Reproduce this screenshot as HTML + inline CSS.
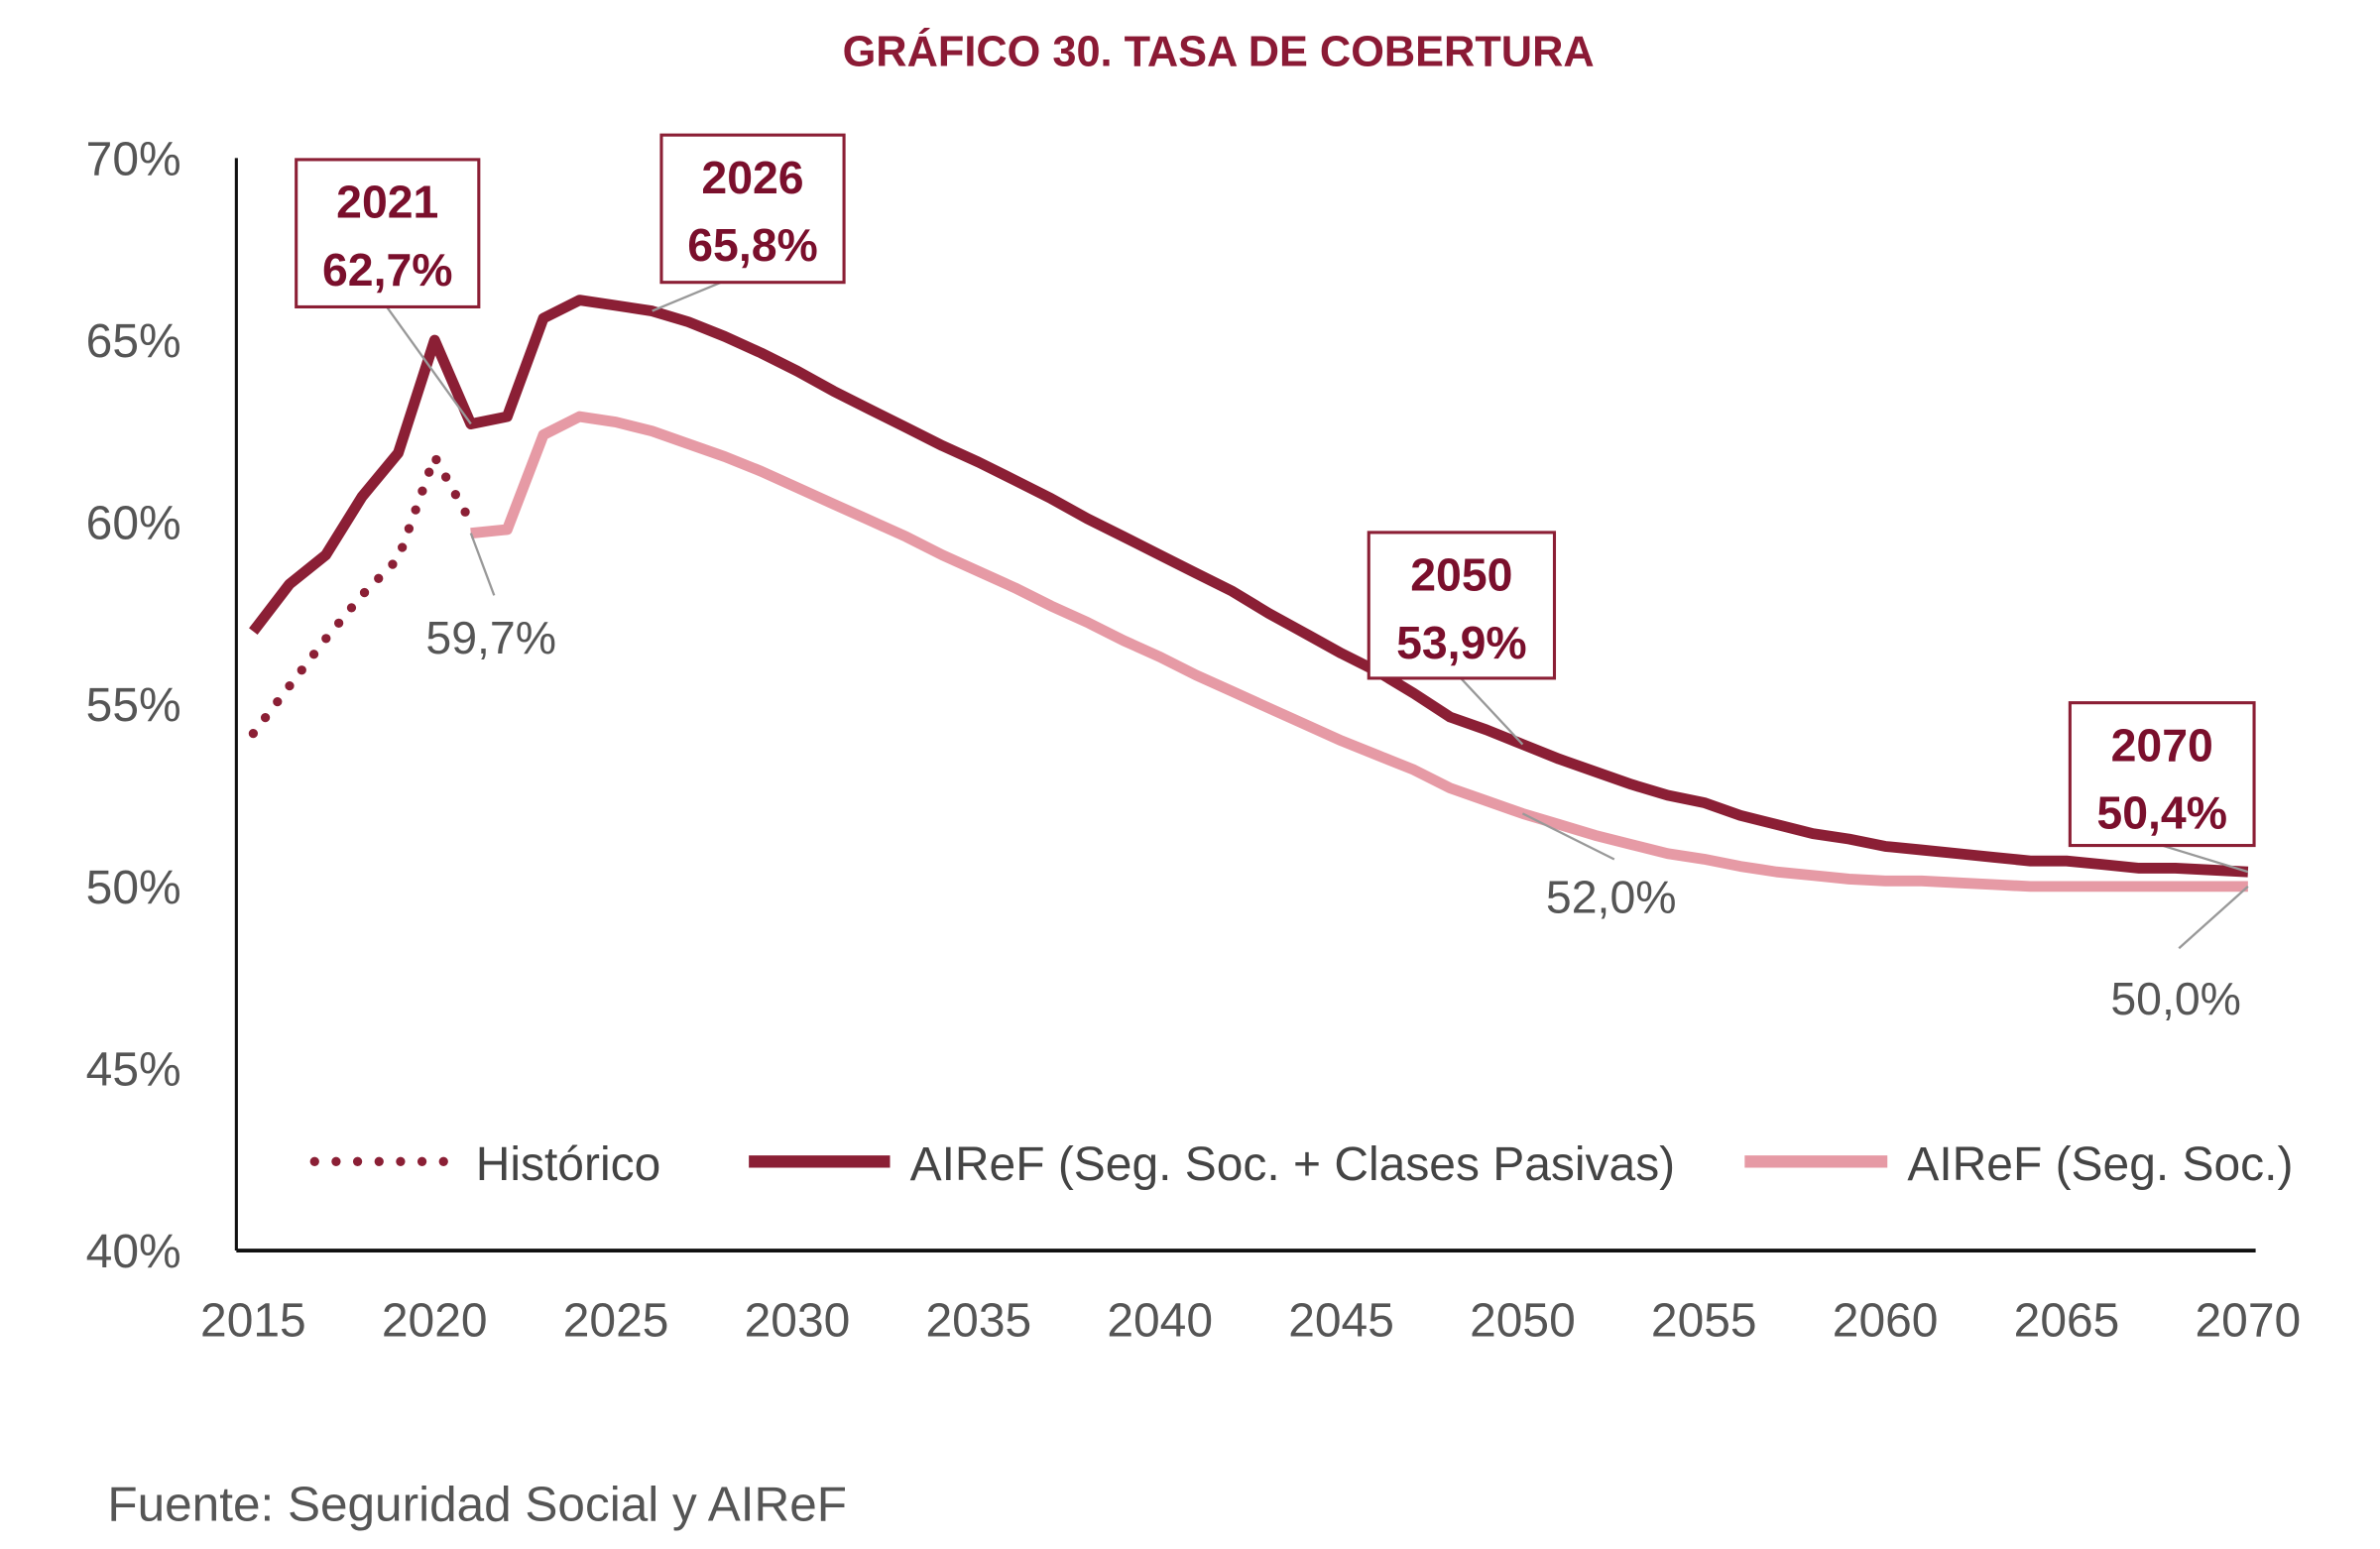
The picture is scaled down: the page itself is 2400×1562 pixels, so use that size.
<!DOCTYPE html>
<html><head><meta charset="utf-8"><style>
html,body{margin:0;padding:0;background:#fff}
svg{display:block}
text{font-family:"Liberation Sans",sans-serif}
</style></head><body>
<svg id="chart" width="2400" height="1562" viewBox="0 0 1551 1009.5" xmlns="http://www.w3.org/2000/svg">
<text x="794" y="43" text-anchor="middle" font-size="28" font-weight="bold" fill="#8b1a35">GRÁFICO 30.  TASA DE COBERTURA</text>
<g id="yt"></g>
<g id="xt"></g>
<g id="series"></g>
<g id="ann"></g>
<g>
<line x1="205" y1="757" x2="293" y2="757" stroke="#8b1f35" stroke-width="6" stroke-dasharray="0 14" stroke-linecap="round"/>
<text x="310" y="769" font-size="31" fill="#444">Histórico</text>
<line x1="488" y1="757" x2="580" y2="757" stroke="#8b1f35" stroke-width="8"/>
<text x="593" y="769" font-size="31" fill="#444">AIReF (Seg. Soc. + Clases Pasivas)</text>
<line x1="1137" y1="757" x2="1230" y2="757" stroke="#e69aa5" stroke-width="8"/>
<text x="1243" y="769" font-size="31" fill="#444">AIReF (Seg. Soc.)</text>
</g>
<text x="70" y="991" font-size="32" fill="#555">Fuente: Seguridad Social y AIReF</text>
</svg>
<script>
const histYears=[2015,2016,2017,2018,2019,2020,2021];
const histValues=[54.2,55.5,56.8,58.0,59.0,61.8,60.0];
const totalYears=[];for(let y=2015;y<=2070;y++)totalYears.push(y);
const totalValues=[57.0,58.3,59.1,60.7,61.9,65.0,62.7,62.9,65.6,66.1,65.95,65.8,65.5,65.1,64.65,64.15,63.6,63.1,62.6,62.1,61.65,61.15,60.65,60.1,59.6,59.1,58.6,58.1,57.5,56.95,56.4,55.9,55.3,54.65,54.3,53.9,53.5,53.15,52.8,52.5,52.3,51.95,51.7,51.45,51.3,51.1,51.0,50.9,50.8,50.7,50.7,50.6,50.5,50.5,50.45,50.4];
const ssYears=[];for(let y=2021;y<=2070;y++)ssYears.push(y);
const ssValues=[59.7,59.8,62.4,62.9,62.75,62.5,62.15,61.8,61.4,60.95,60.5,60.05,59.6,59.1,58.65,58.2,57.7,57.25,56.75,56.3,55.8,55.35,54.9,54.45,54.0,53.6,53.2,52.7,52.35,52.0,51.7,51.4,51.15,50.9,50.75,50.55,50.4,50.3,50.2,50.15,50.15,50.1,50.05,50.0,50.0,50.0,50.0,50.0,50.0,50.0];
const yTicks=[40,45,50,55,60,65,70];
const xTicks=[2015,2020,2025,2030,2035,2040,2045,2050,2055,2060,2065,2070];
const xs=y=>165+(y-2015)*(1465-165)/55;
const ys=v=>815-(v-40)*(815-103)/30;
const NS='http://www.w3.org/2000/svg';
function mk(tag,attrs,parent,txt){const e=document.createElementNS(NS,tag);for(const k in attrs)e.setAttribute(k,attrs[k]);if(txt!=null)e.textContent=txt;parent.appendChild(e);return e;}
const yt=document.getElementById('yt'),xt=document.getElementById('xt'),se=document.getElementById('series'),an=document.getElementById('ann');
yTicks.forEach(t=>{const e=mk('text',{x:118,y:ys(t)+11,'text-anchor':'end','font-size':31,fill:'#555'},yt,t+'%');

});
xTicks.forEach(t=>{const e=mk('text',{x:xs(t),y:871,'text-anchor':'middle','font-size':31,fill:'#555'},xt,String(t));

});
let a=mk('line',{x1:154,y1:103,x2:154,y2:815,stroke:'#111','stroke-width':2},yt);


a=mk('line',{x1:154,y1:815,x2:1470,y2:815,stroke:'#111','stroke-width':2.5},xt);


const pts=(ys_,vs)=>ys_.map((y,i)=>xs(y).toFixed(1)+','+ys(vs[i]).toFixed(1)).join(' ');
let p=mk('polyline',{points:pts(ssYears,ssValues),fill:'none',stroke:'#e69aa5','stroke-width':7,'stroke-linejoin':'round'},se);


p=mk('polyline',{points:pts(totalYears,totalValues),fill:'none',stroke:'#8b1f35','stroke-width':7,'stroke-linejoin':'round'},se);


p=mk('polyline',{points:pts(histYears,histValues),fill:'none',stroke:'#8b1f35','stroke-width':6,'stroke-dasharray':'0 13','stroke-linecap':'round'},se);


function leader(x1,y1,x2,y2){const l=mk('line',{x1,y1,x2,y2,stroke:'#999','stroke-width':1.5},an);

}
function box(x,y,w,h,t1,t2){const g=mk('g',{},an);


mk('rect',{x,y,width:w,height:h,fill:'#fff',stroke:'#8b1f35','stroke-width':2},g);
mk('text',{x:x+w/2,y:y+38,'text-anchor':'middle','font-size':30,'font-weight':'bold',fill:'#7a0f2c'},g,t1);
mk('text',{x:x+w/2,y:y+82,'text-anchor':'middle','font-size':30,'font-weight':'bold',fill:'#7a0f2c'},g,t2);}
function lab(x,y,t){const e=mk('text',{x,y,'text-anchor':'middle','font-size':30,fill:'#555'},an,t);

}
leader(252,200,xs(2021),ys(62.7));box(193,104,119,96,'2021','62,7%');
leader(470,184,xs(2026),ys(65.8));box(431,88,119,96,'2026','65,8%');
leader(952,442,xs(2050),ys(53.9));box(892,347,121,95,'2050','53,9%');
leader(1409,551,xs(2070),ys(50.4));box(1349,458,120,93,'2070','50,4%');
leader(xs(2021),ys(59.7),322,388);lab(320,426,'59,7%');
leader(xs(2050),ys(52.0),1052,560);lab(1050,595,'52,0%');
leader(xs(2070),ys(50.0),1420,618);lab(1418,661,'50,0%');
</script>
</body></html>
